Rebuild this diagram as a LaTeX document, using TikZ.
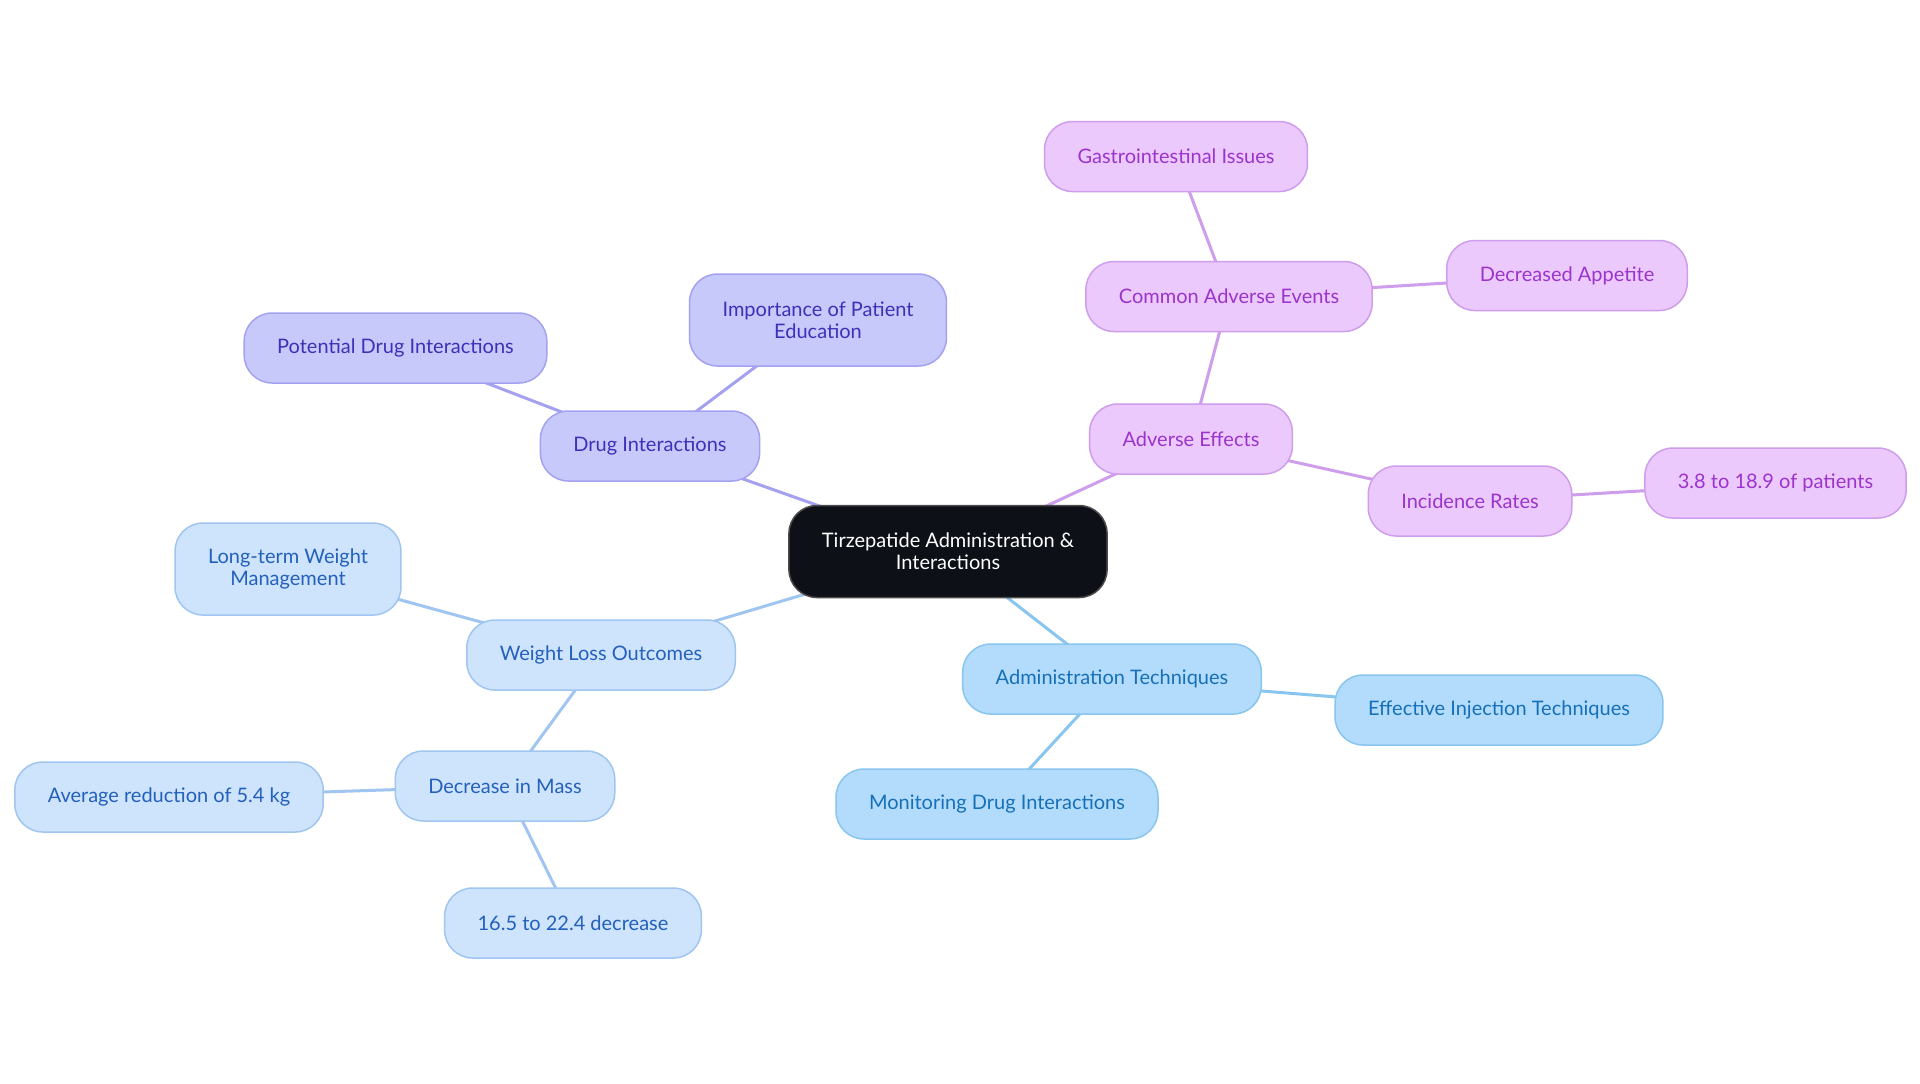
\documentclass[tikz,border=0pt]{standalone}
\usepackage{fontspec}
\setmainfont{Lato}
\usetikzlibrary{backgrounds}

\definecolor{rootfill}{HTML}{0D1117}
\definecolor{drugfill}{HTML}{C8C9FB}
\definecolor{drugline}{HTML}{A4A2F0}
\definecolor{drugtext}{HTML}{3C31B8}
\definecolor{advfill}{HTML}{ECC9FC}
\definecolor{advline}{HTML}{CE9EEC}
\definecolor{advtext}{HTML}{9A34CC}
\definecolor{admfill}{HTML}{B3DCFC}
\definecolor{admline}{HTML}{88C5EF}
\definecolor{admtext}{HTML}{1670B8}
\definecolor{wlofill}{HTML}{CDE4FC}
\definecolor{wloline}{HTML}{A0C5F0}
\definecolor{wlotext}{HTML}{2460BC}

\tikzset{
  base/.style={draw, line width=0.75pt, rounded corners=14pt,
    inner xsep=16.5pt, inner ysep=0pt, minimum height=35pt,
    align=center, font=\fontsize{10}{10.8}\selectfont},
  tall/.style={minimum height=46pt},
  rootnode/.style={base, tall, fill=rootfill, draw=black!70, text=white},
  drugnode/.style={base, fill=drugfill, draw=drugline, text=drugtext},
  advnode/.style={base, fill=advfill, draw=advline, text=advtext},
  admnode/.style={base, fill=admfill, draw=admline, text=admtext},
  wlonode/.style={base, fill=wlofill, draw=wloline, text=wlotext},
  drugedge/.style={draw=drugline, line width=1.5pt},
  advedge/.style={draw=advline, line width=1.5pt},
  admedge/.style={draw=admline, line width=1.5pt},
  wloedge/.style={draw=wloline, line width=1.5pt}
}

\begin{document}
\begin{tikzpicture}[x=0.5pt, y=-0.5pt]
  \path[use as bounding box] (0,0) rectangle (1920,1083);

  \node[rootnode] (root) at (948,551.5) {Tirzepatide Administration \&\\Interactions};

  % drug interactions
  \node[drugnode] (drug) at (650,446) {Drug Interactions};
  \node[drugnode] (pot) at (395.5,348) {Potential Drug Interactions};
  \node[drugnode, tall] (imp) at (818,320) {Importance of Patient\\Education};

  % adverse effects
  \node[advnode] (adv) at (1191,439) {Adverse Effects};
  \node[advnode] (cae) at (1229,296.5) {Common Adverse Events};
  \node[advnode] (gi) at (1176,156.5) {Gastrointestinal Issues};
  \node[advnode] (dap) at (1567,275.5) {Decreased Appetite};
  \node[advnode] (inc) at (1470,501) {Incidence Rates};
  \node[advnode] (pat) at (1775.5,483) {3.8 to 18.9 of patients};

  % administration
  \node[admnode] (adm) at (1112,679) {Administration Techniques};
  \node[admnode] (eff) at (1499,710) {Effective Injection Techniques};
  \node[admnode] (mon) at (997,804) {Monitoring Drug Interactions};

  % weight loss
  \node[wlonode] (wlo) at (601,655) {Weight Loss Outcomes};
  \node[wlonode, tall] (ltw) at (288,569) {Long-term Weight\\Management};
  \node[wlonode] (dim) at (505,786) {Decrease in Mass};
  \node[wlonode] (avg) at (169,797) {Average reduction of 5.4 kg};
  \node[wlonode] (dec) at (573,923) {16.5 to 22.4 decrease};

  \begin{scope}[on background layer]
    \fill[white] (0,0) rectangle (1920,1083);
    \draw[drugedge] (root.center) -- (drug.center);
    \draw[drugedge] (drug.center) -- (pot.center);
    \draw[drugedge] (drug.center) -- (imp.center);
    \draw[advedge] (root.center) -- (adv.center);
    \draw[advedge] (adv.center) -- (cae.center);
    \draw[advedge] (cae.center) -- (gi.center);
    \draw[advedge] (cae.center) -- (dap.center);
    \draw[advedge] (adv.center) -- (inc.center);
    \draw[advedge] (inc.center) -- (pat.center);
    \draw[admedge] (root.center) -- (adm.center);
    \draw[admedge] (adm.center) -- (eff.center);
    \draw[admedge] (adm.center) -- (mon.center);
    \draw[wloedge] (root.center) -- (wlo.center);
    \draw[wloedge] (wlo.center) -- (ltw.center);
    \draw[wloedge] (wlo.center) -- (dim.center);
    \draw[wloedge] (dim.center) -- (avg.center);
    \draw[wloedge] (dim.center) -- (dec.center);
  \end{scope}
\end{tikzpicture}
\end{document}
